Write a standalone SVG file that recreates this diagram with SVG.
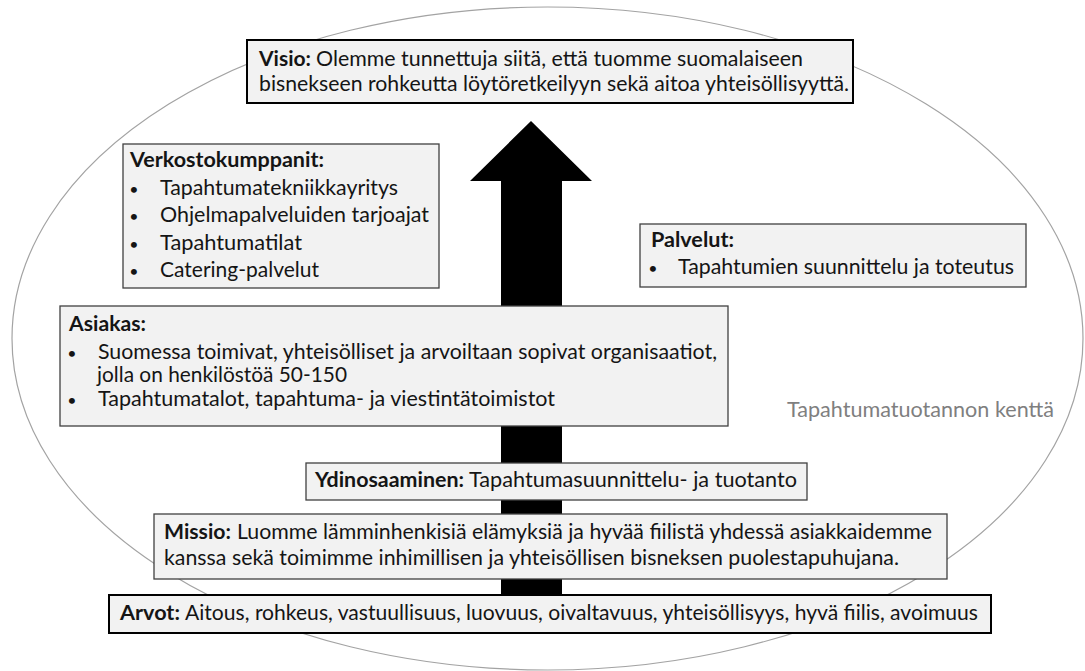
<svg xmlns="http://www.w3.org/2000/svg" width="1085" height="671" viewBox="0 0 1085 671">
<style>
.bg{fill:#ffffff}
.field{fill:none;stroke:#a3a3a3;stroke-width:1.2}
.box{fill:#f2f2f2;stroke:#404040;stroke-width:1.3}
.strong{stroke:#000000;stroke-width:2}
.t{font-family:Lato,"Open Sans","Liberation Sans",sans-serif;font-size:20.5px;fill:#151515}
.b{font-weight:700}
.bul{text-anchor:middle;font-size:16px}
.gray{fill:#7f7f7f}
.arrow{fill:#000000}
</style>
<rect class="bg" x="0" y="0" width="1085" height="671"/>
<g id="field">
<ellipse class="field" cx="547.5" cy="338.5" rx="535.5" ry="331.5"/>
<text class="t gray" x="787" y="417" textLength="267" lengthAdjust="spacingAndGlyphs">Tapahtumatuotannon kenttä</text>
</g>
<g id="connectors">
<polygon class="arrow" points="531,121 592,181 562,181 562,595 501,595 501,181 470,181"/>
</g>
<g id="visio">
<rect class="box strong" x="247" y="40" width="606" height="63"/>
<text class="t b" x="259" y="66" textLength="52" lengthAdjust="spacingAndGlyphs">Visio:</text>
<text class="t" x="316" y="66" textLength="487" lengthAdjust="spacingAndGlyphs">Olemme tunnettuja siitä, että tuomme suomalaiseen</text>
<text class="t" x="259" y="91" textLength="590" lengthAdjust="spacingAndGlyphs">bisnekseen rohkeutta löytöretkeilyyn sekä aitoa yhteisöllisyyttä.</text>
</g>
<g id="verkostokumppanit">
<rect class="box" x="123" y="144" width="316" height="144"/>
<text class="t b" x="130" y="167" textLength="194" lengthAdjust="spacingAndGlyphs">Verkostokumppanit:</text>
<text class="t bul" x="134" y="195">•</text>
<text class="t" x="160" y="195" textLength="238" lengthAdjust="spacingAndGlyphs">Tapahtumatekniikkayritys</text>
<text class="t bul" x="134" y="222">•</text>
<text class="t" x="160" y="222" textLength="269" lengthAdjust="spacingAndGlyphs">Ohjelmapalveluiden tarjoajat</text>
<text class="t bul" x="134" y="250">•</text>
<text class="t" x="160" y="250" textLength="142" lengthAdjust="spacingAndGlyphs">Tapahtumatilat</text>
<text class="t bul" x="134" y="277">•</text>
<text class="t" x="160" y="277" textLength="159" lengthAdjust="spacingAndGlyphs">Catering-palvelut</text>
</g>
<g id="palvelut">
<rect class="box" x="640" y="224" width="386" height="63"/>
<text class="t b" x="651" y="247" textLength="83" lengthAdjust="spacingAndGlyphs">Palvelut:</text>
<text class="t bul" x="653" y="274">•</text>
<text class="t" x="678" y="274" textLength="336" lengthAdjust="spacingAndGlyphs">Tapahtumien suunnittelu ja toteutus</text>
</g>
<g id="asiakas">
<rect class="box" x="60" y="306" width="668" height="120"/>
<text class="t b" x="69" y="331" textLength="77" lengthAdjust="spacingAndGlyphs">Asiakas:</text>
<text class="t bul" x="72" y="359">•</text>
<text class="t" x="98" y="359" textLength="619" lengthAdjust="spacingAndGlyphs">Suomessa toimivat, yhteisölliset ja arvoiltaan sopivat organisaatiot,</text>
<text class="t" x="97" y="382" textLength="250" lengthAdjust="spacingAndGlyphs">jolla on henkilöstöä 50-150</text>
<text class="t bul" x="72" y="406">•</text>
<text class="t" x="98" y="406" textLength="457" lengthAdjust="spacingAndGlyphs">Tapahtumatalot, tapahtuma- ja viestintätoimistot</text>
</g>
<g id="ydinosaaminen">
<rect class="box" x="306" y="463" width="501" height="37"/>
<text class="t b" x="315" y="487" textLength="149" lengthAdjust="spacingAndGlyphs">Ydinosaaminen:</text>
<text class="t" x="469" y="487" textLength="328" lengthAdjust="spacingAndGlyphs">Tapahtumasuunnittelu- ja tuotanto</text>
</g>
<g id="missio">
<rect class="box" x="154" y="514" width="793" height="65"/>
<text class="t b" x="164" y="539" textLength="67" lengthAdjust="spacingAndGlyphs">Missio:</text>
<text class="t" x="237" y="539" textLength="695" lengthAdjust="spacingAndGlyphs">Luomme lämminhenkisiä elämyksiä ja hyvää fiilistä yhdessä asiakkaidemme</text>
<text class="t" x="164" y="565" textLength="735" lengthAdjust="spacingAndGlyphs">kanssa sekä toimimme inhimillisen ja yhteisöllisen bisneksen puolestapuhujana.</text>
</g>
<g id="arvot">
<rect class="box strong" x="109" y="595" width="882" height="38"/>
<text class="t b" x="120" y="620" textLength="60" lengthAdjust="spacingAndGlyphs">Arvot:</text>
<text class="t" x="185" y="620" textLength="793" lengthAdjust="spacingAndGlyphs">Aitous, rohkeus, vastuullisuus, luovuus, oivaltavuus, yhteisöllisyys, hyvä fiilis, avoimuus</text>
</g>
</svg>
